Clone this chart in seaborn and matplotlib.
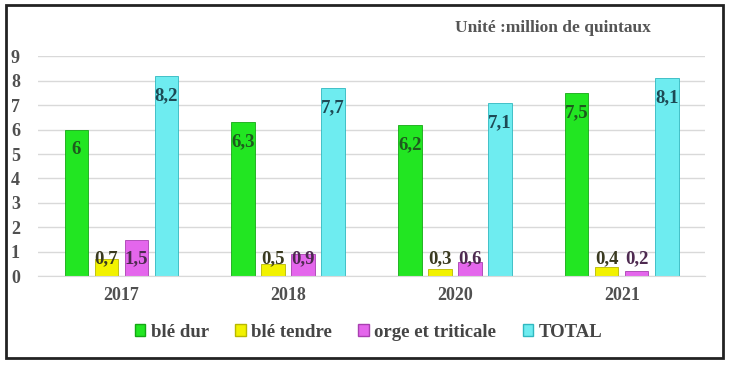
import pandas as pd
import matplotlib.pyplot as plt
import seaborn as sns
from matplotlib.patches import Rectangle

# Production data (million quintaux)
years = ["2017", "2018", "2020", "2021"]
series = ["blé dur", "blé tendre", "orge et triticale", "TOTAL"]
ble_dur = [6.0, 6.3, 6.2, 7.5]
ble_tendre = [0.7, 0.5, 0.3, 0.4]
orge = [1.5, 0.9, 0.6, 0.2]
total = [8.2, 7.7, 7.1, 8.1]

colors = ["#22e622", "#f2f200", "#e466ec", "#6eecf0"]
edge_colors = ["#14a814", "#b8b800", "#a840b0", "#30b8c0"]
label_colors = ["#1e5a1e", "#3a3a20", "#4e2a50", "#1d4a55"]

rows = []
for name, vals in zip(series, [ble_dur, ble_tendre, orge, total]):
    for y, v in zip(years, vals):
        rows.append({"Année": y, "Série": name, "Valeur": v})
df = pd.DataFrame(rows)

plt.rcParams["font.family"] = ["Liberation Serif", "DejaVu Serif"]
plt.rcParams["font.weight"] = "bold"

fig = plt.figure(figsize=(7.3, 3.65), dpi=100)
ax = fig.add_axes([0.052, 0.243, 0.914, 0.603])

sns.barplot(data=df, x="Année", y="Valeur", hue="Série", order=years,
            hue_order=series, palette=colors, width=0.72, gap=0.22,
            saturation=1, ax=ax, legend=False)

for container, ec, lc in zip(ax.containers, edge_colors, label_colors):
    for bar in container:
        bar.set_edgecolor(ec)
        bar.set_linewidth(0.6)
        v = bar.get_height()
        ypos = max(v - 0.8, 0.7)
        ax.text(bar.get_x() + bar.get_width() / 2, ypos,
                f"{v:.1f}".replace(".0", "").replace(".", ","),
                ha="center", va="center", fontsize=13.5, fontweight="bold",
                color=lc, zorder=5)

ax.set_ylim(0, 9)
ax.set_yticks(range(10))
ax.set_xlim(-0.5, 3.5)
ax.grid(axis="y", color="#d9d9d9", linewidth=1)
ax.set_axisbelow(True)
for s in ["top", "right", "left"]:
    ax.spines[s].set_visible(False)
ax.spines["bottom"].set_color("#d9d9d9")
ax.tick_params(axis="both", length=0, labelsize=13, labelcolor="#505050")
ax.tick_params(axis="x", pad=8)
ax.tick_params(axis="y", pad=13)
ax.set_xlabel("")
ax.set_ylabel("")

fig.text(0.623, 0.912, "Unité :million de quintaux", fontsize=12.5,
         fontweight="bold", color="#555555")

handles = [Rectangle((0, 0), 1, 1, facecolor=c, edgecolor=e)
           for c, e in zip(colors, edge_colors)]
fig.legend(handles, series, loc="center", bbox_to_anchor=(0.505, 0.09),
           ncol=4, frameon=False, fontsize=13.5, handlelength=0.55,
           handleheight=0.55, handletextpad=0.3, columnspacing=1.4,
           labelcolor="#454545")

# outer frame
fig.add_artist(Rectangle((0.008, 0.018), 0.982, 0.967, transform=fig.transFigure,
                         fill=False, edgecolor="#222222", linewidth=2))

fig.savefig("out.png", dpi=100)
